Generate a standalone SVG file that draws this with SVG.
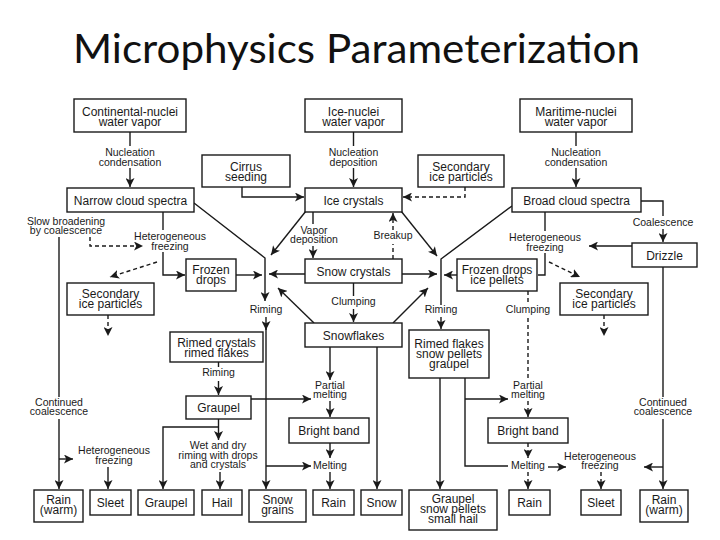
<svg xmlns="http://www.w3.org/2000/svg" width="720" height="540" viewBox="0 0 720 540">
<style>
.bx{fill:#fff;stroke:#1a1a1a;stroke-width:1.4}
.t{font-family:"Liberation Sans",Arial,sans-serif;font-size:12px;text-anchor:middle;fill:#1a1a1a}
.l{font-family:"Liberation Sans",Arial,sans-serif;font-size:10.5px;text-anchor:middle;fill:#1a1a1a}
.c{fill:none;stroke:#1a1a1a;stroke-width:1.4}
.d{stroke-dasharray:4 3}
.title{font-family:Lato,"Open Sans",sans-serif;font-size:40px;fill:#111}
</style>
<defs>
<marker id="a" viewBox="0 0 10 10" refX="10" refY="5" markerWidth="9" markerHeight="9" markerUnits="userSpaceOnUse" orient="auto">
<path d="M0,0 L10,5 L0,10 L2.5,5 z" fill="#1a1a1a"/>
</marker>
</defs>
<rect width="720" height="540" fill="#fff"/>
<text class="title" x="73" y="63" textLength="567" lengthAdjust="spacingAndGlyphs">Microphysics Parameterization</text>

<g id="connectors">
<path class="c" d="M130,132 V146"/><path class="c" d="M130,168 V187" marker-end="url(#a)"/>
<path class="c" d="M353.5,132 V146"/><path class="c" d="M353.5,168 V187" marker-end="url(#a)"/>
<path class="c" d="M576,132 V146"/><path class="c" d="M576,168 V187" marker-end="url(#a)"/>
<path class="c" d="M242,187 V197 H304" marker-end="url(#a)"/>
<path class="c d" d="M465,187 V197 H403" marker-end="url(#a)"/>
<path class="c" d="M194,203 L265,258 V301" marker-end="url(#a)"/>
<path class="c" d="M266,317 V330" marker-end="url(#a)"/>
<path class="c" d="M266,328 V489" marker-end="url(#a)"/>
<path class="c" d="M512,206 L441,259 V305"/>
<path class="c" d="M441,317 V329" marker-end="url(#a)"/>
<path class="c" d="M236,275 H262" marker-end="url(#a)"/>
<path class="c" d="M163,212 V230"/><path class="c" d="M163,252 V275 H185" marker-end="url(#a)"/>
<path class="c" d="M305,274 H269" marker-end="url(#a)"/>
<path class="c" d="M402,274 H437" marker-end="url(#a)"/>
<path class="c" d="M457,275 H444" marker-end="url(#a)"/>
<path class="c" d="M306,211 L271,255" marker-end="url(#a)"/>
<path class="c" d="M401,211 L437,256" marker-end="url(#a)"/>
<path class="c" d="M314,323 L278,288" marker-end="url(#a)"/>
<path class="c" d="M393,323 L428,288" marker-end="url(#a)"/>
<path class="c" d="M353.5,283 V296"/><path class="c" d="M353.5,309 V322" marker-end="url(#a)"/>
<path class="c" d="M313,212 V224"/><path class="c" d="M313,246 V258" marker-end="url(#a)"/>
<path class="c d" d="M393,259 V244"/><path class="c d" d="M393,230 V213" marker-end="url(#a)"/>
<path class="c" d="M545,212 V231"/><path class="c" d="M545,253 V275 H538"/>
<path class="c" d="M632,246 H589" marker-end="url(#a)"/>
<path class="c" d="M641,201 H663 V216"/><path class="c" d="M663,229 V242" marker-end="url(#a)"/>
<path class="c" d="M663,267 V397"/><path class="c" d="M663,419 V489" marker-end="url(#a)"/>
<path class="c" d="M663,467 H644" marker-end="url(#a)"/>
<path class="c d" d="M549,262 L580,277" marker-end="url(#a)"/>
<path class="c d" d="M604,315 V336" marker-end="url(#a)"/>
<path class="c d" d="M90,237 V246 H143" marker-end="url(#a)"/>
<path class="c d" d="M157,262 L110,277" marker-end="url(#a)"/>
<path class="c d" d="M108,315 V336" marker-end="url(#a)"/>
<path class="c" d="M59,237 V397"/><path class="c" d="M59,419 V489" marker-end="url(#a)"/>
<path class="c" d="M59,459 H73" marker-end="url(#a)"/>
<path class="c" d="M108,467 V489" marker-end="url(#a)"/>
<path class="c" d="M218.5,362 V367"/><path class="c" d="M218.5,381 V395" marker-end="url(#a)"/>
<path class="c" d="M218.5,419 V440" marker-end="url(#a)"/>
<path class="c" d="M218.5,427 H163 V489" marker-end="url(#a)"/>
<path class="c" d="M220,472 V489" marker-end="url(#a)"/>
<path class="c" d="M251,399 H311" marker-end="url(#a)"/>
<path class="c" d="M330,347 V380" marker-end="url(#a)"/>
<path class="c" d="M330,401 V417" marker-end="url(#a)"/>
<path class="c" d="M330,443 V458" marker-end="url(#a)"/>
<path class="c" d="M330,472 V489" marker-end="url(#a)"/>
<path class="c" d="M266,466 H311" marker-end="url(#a)"/>
<path class="c" d="M377,347 V489" marker-end="url(#a)"/>
<path class="c" d="M440,378 V489" marker-end="url(#a)"/>
<path class="c" d="M465,378 V466 H508"/>
<path class="c" d="M465,399 H508" marker-end="url(#a)"/>
<path class="c d" d="M528,291 V304"/><path class="c d" d="M528,318 V381"/>
<path class="c d" d="M528,401 V417" marker-end="url(#a)"/>
<path class="c d" d="M528,443 V458" marker-end="url(#a)"/>
<path class="c d" d="M528,472 V489" marker-end="url(#a)"/>
<path class="c" d="M548,467 H566" marker-end="url(#a)"/>
<path class="c d" d="M601,472 V489" marker-end="url(#a)"/>
</g>

<g id="labels">
<text class="l" x="130" y="156">Nucleation</text><text class="l" x="130" y="165.5">condensation</text>
<text class="l" x="353.5" y="156">Nucleation</text><text class="l" x="353.5" y="165.5">deposition</text>
<text class="l" x="576" y="156">Nucleation</text><text class="l" x="576" y="165.5">condensation</text>
<text class="l" x="66" y="224.5">Slow broadening</text><text class="l" x="66" y="234">by coalescence</text>
<text class="l" x="170" y="240">Heterogeneous</text><text class="l" x="170" y="249.5">freezing</text>
<text class="l" x="314" y="234">Vapor</text><text class="l" x="314" y="243">deposition</text>
<text class="l" x="393" y="239">Breakup</text>
<text class="l" x="545" y="241">Heterogeneous</text><text class="l" x="545" y="250.5">freezing</text>
<text class="l" x="663" y="226">Coalescence</text>
<text class="l" x="266" y="313">Riming</text>
<text class="l" x="353.5" y="305">Clumping</text>
<text class="l" x="441" y="313">Riming</text>
<text class="l" x="528" y="313">Clumping</text>
<text class="l" x="218.5" y="376">Riming</text>
<text class="l" x="330" y="389">Partial</text><text class="l" x="330" y="398">melting</text>
<text class="l" x="528" y="389">Partial</text><text class="l" x="528" y="398">melting</text>
<text class="l" x="59" y="406">Continued</text><text class="l" x="59" y="415">coalescence</text>
<text class="l" x="663" y="406">Continued</text><text class="l" x="663" y="415">coalescence</text>
<text class="l" x="218" y="449">Wet and dry</text><text class="l" x="218" y="458.5">riming with drops</text><text class="l" x="218" y="468">and crystals</text>
<text class="l" x="114" y="454">Heterogeneous</text><text class="l" x="114" y="463.5">freezing</text>
<text class="l" x="330" y="468.5">Melting</text>
<text class="l" x="528" y="468.5">Melting</text>
<text class="l" x="600" y="460">Heterogeneous</text><text class="l" x="600" y="469">freezing</text>
</g>

<g id="n-cont"><rect class="bx" x="74" y="99" width="112" height="33"/><text class="t" x="130" y="116">Continental-nuclei</text><text class="t" x="130" y="126">water vapor</text></g>
<g id="n-icen"><rect class="bx" x="305" y="99" width="97" height="33"/><text class="t" x="353.5" y="116">Ice-nuclei</text><text class="t" x="353.5" y="126">water vapor</text></g>
<g id="n-mari"><rect class="bx" x="520" y="99" width="112" height="33"/><text class="t" x="576" y="116">Maritime-nuclei</text><text class="t" x="576" y="126">water vapor</text></g>
<g id="n-cirrus"><rect class="bx" x="202" y="155" width="88" height="32"/><text class="t" x="246" y="170.5">Cirrus</text><text class="t" x="246" y="180.5">seeding</text></g>
<g id="n-sec-top"><rect class="bx" x="418" y="155" width="86" height="32"/><text class="t" x="461" y="170.5">Secondary</text><text class="t" x="461" y="180.5">ice particles</text></g>
<g id="n-narrow"><rect class="bx" x="67" y="188" width="127" height="24"/><text class="t" x="130.5" y="204.5">Narrow cloud spectra</text></g>
<g id="n-icec"><rect class="bx" x="305" y="188" width="97" height="24"/><text class="t" x="353.5" y="204.5">Ice crystals</text></g>
<g id="n-broad"><rect class="bx" x="512" y="188" width="129" height="24"/><text class="t" x="576.5" y="204.5">Broad cloud spectra</text></g>
<g id="n-frozen"><rect class="bx" x="186" y="259" width="50" height="32"/><text class="t" x="211" y="274">Frozen</text><text class="t" x="211" y="284">drops</text></g>
<g id="n-snowc"><rect class="bx" x="305" y="259" width="97" height="24"/><text class="t" x="353.5" y="275.5">Snow crystals</text></g>
<g id="n-frozen2"><rect class="bx" x="457" y="259" width="80" height="32"/><text class="t" x="497" y="274">Frozen drops</text><text class="t" x="497" y="284">ice pellets</text></g>
<g id="n-drizzle"><rect class="bx" x="632" y="243" width="65" height="24"/><text class="t" x="664.5" y="259.5">Drizzle</text></g>
<g id="n-secL"><rect class="bx" x="67" y="283" width="87" height="32"/><text class="t" x="110.5" y="298">Secondary</text><text class="t" x="110.5" y="308">ice particles</text></g>
<g id="n-secR"><rect class="bx" x="560" y="283" width="88" height="32"/><text class="t" x="604" y="298">Secondary</text><text class="t" x="604" y="308">ice particles</text></g>
<g id="n-rimedc"><rect class="bx" x="170" y="332" width="93" height="30"/><text class="t" x="216.5" y="346.5">Rimed crystals</text><text class="t" x="216.5" y="356.5">rimed flakes</text></g>
<g id="n-snowfl"><rect class="bx" x="305" y="323" width="97" height="24"/><text class="t" x="353.5" y="339.5">Snowflakes</text></g>
<g id="n-rimedf"><rect class="bx" x="409" y="330" width="80" height="48"/><text class="t" x="449" y="348">Rimed flakes</text><text class="t" x="449" y="358">snow pellets</text><text class="t" x="449" y="368">graupel</text></g>
<g id="n-graupelM"><rect class="bx" x="186" y="396" width="65" height="23"/><text class="t" x="218.5" y="412">Graupel</text></g>
<g id="n-brightM"><rect class="bx" x="289" y="418" width="80" height="25"/><text class="t" x="329" y="434.5">Bright band</text></g>
<g id="n-brightR"><rect class="bx" x="488" y="418" width="80" height="25"/><text class="t" x="528" y="434.5">Bright band</text></g>
<g id="n-rainwL"><rect class="bx" x="34" y="490" width="49" height="32"/><text class="t" x="58.5" y="504">Rain</text><text class="t" x="58.5" y="514">(warm)</text></g>
<g id="n-sleetL"><rect class="bx" x="90" y="490" width="41" height="25"/><text class="t" x="110.5" y="507">Sleet</text></g>
<g id="n-graupelB"><rect class="bx" x="138" y="490" width="56" height="25"/><text class="t" x="166" y="507">Graupel</text></g>
<g id="n-hail"><rect class="bx" x="202" y="490" width="40" height="25"/><text class="t" x="222" y="507">Hail</text></g>
<g id="n-snowgr"><rect class="bx" x="249" y="490" width="57" height="32"/><text class="t" x="277.5" y="504">Snow</text><text class="t" x="277.5" y="514">grains</text></g>
<g id="n-rainM"><rect class="bx" x="313" y="490" width="41" height="25"/><text class="t" x="333.5" y="507">Rain</text></g>
<g id="n-snow"><rect class="bx" x="361" y="490" width="41" height="25"/><text class="t" x="381.5" y="507">Snow</text></g>
<g id="n-gsph"><rect class="bx" x="409" y="490" width="88" height="40"/><text class="t" x="453" y="503">Graupel</text><text class="t" x="453" y="513">snow pellets</text><text class="t" x="453" y="523">small hail</text></g>
<g id="n-rainR"><rect class="bx" x="509" y="490" width="41" height="25"/><text class="t" x="529.5" y="507">Rain</text></g>
<g id="n-sleetR"><rect class="bx" x="581" y="490" width="40" height="25"/><text class="t" x="601" y="507">Sleet</text></g>
<g id="n-rainwR"><rect class="bx" x="640" y="490" width="48" height="32"/><text class="t" x="664" y="504">Rain</text><text class="t" x="664" y="514">(warm)</text></g>
</svg>
